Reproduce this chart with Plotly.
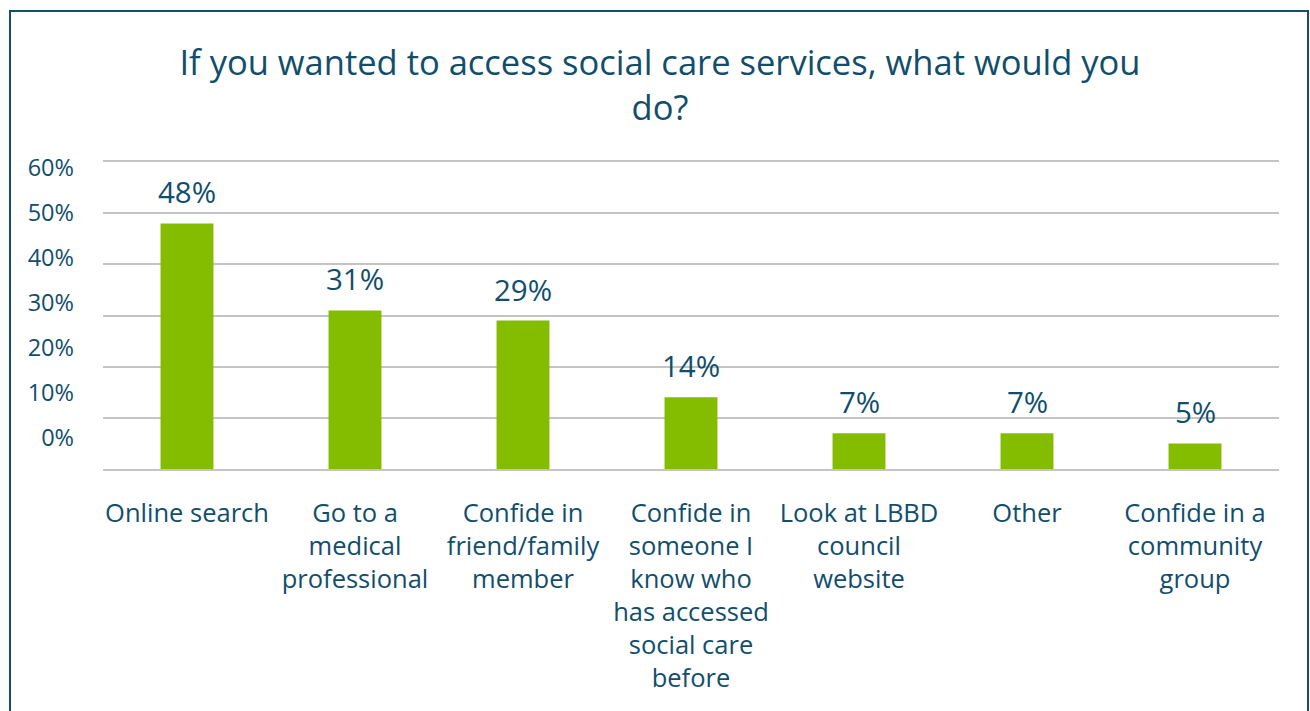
import plotly.graph_objects as go

# Survey responses: share of respondents choosing each route
categories = [
    "Online search",
    "Go to a medical professional",
    "Confide in friend/family member",
    "Confide in someone I know who has accessed social care before",
    "Look at LBBD council website",
    "Other",
    "Confide in a community group",
]
tick_labels = [
    "Online search",
    "Go to a<br>medical<br>professional",
    "Confide in<br>friend/family<br>member",
    "Confide in<br>someone I<br>know who<br>has accessed<br>social care<br>before",
    "Look at LBBD<br>council<br>website",
    "Other",
    "Confide in a<br>community<br>group",
]
percentages = [48, 31, 29, 14, 7, 7, 5]
y_ticks = [0, 10, 20, 30, 40, 50, 60]

TEXT = "#124e6c"
GREEN = "#84bd00"
GRID = "#c4c4c4"
FONT = "Open Sans"

fig = go.Figure()
fig.add_trace(go.Bar(
    x=categories,
    y=percentages,
    xaxis="x",
    yaxis="y",
    marker=dict(color=GREEN, line=dict(width=0)),
    hoverinfo="skip",
))
# hidden helper subplot carrying the percentage scale labels
fig.add_trace(go.Scatter(
    x=[0, 1], y=[0, 60], xaxis="x2", yaxis="y2",
    mode="markers", marker=dict(opacity=0),
    showlegend=False, hoverinfo="skip",
))

# value labels sitting above each bar
value_labels = [
    dict(
        x=cat, y=val, xref="x", yref="y",
        text=f"{val}%",
        showarrow=False,
        xanchor="center", yanchor="bottom",
        yshift=9,
        font=dict(family=FONT, size=29.5, color=TEXT),
    )
    for cat, val in zip(categories, percentages)
]

fig.update_layout(
    width=1310,
    height=711,
    margin=dict(l=103, r=31, t=162, b=242),
    paper_bgcolor="white",
    plot_bgcolor="rgba(0,0,0,0)",
    showlegend=False,
    bargap=0.685,
    title=dict(
        text="If you wanted to access social care services, what would you<br>do?",
        font=dict(family=FONT, size=34.5, color=TEXT),
        x=660 / 1310,
        xref="container",
        xanchor="center",
        y=1 - 75 / 711,
        yref="container",
        yanchor="top",
    ),
    xaxis=dict(
        type="category",
        domain=[0, 1],
        anchor="y",
        tickmode="array",
        tickvals=categories,
        ticktext=tick_labels,
        tickfont=dict(family=FONT, size=25.5, color=TEXT),
        showgrid=False,
        showline=True,
        mirror=True,
        linecolor=GRID,
        linewidth=2,
        ticks="",
        ticklabelstandoff=20,
    ),
    yaxis=dict(
        type="linear",
        domain=[0, 1],
        anchor="x",
        range=[0, 60],
        tickvals=y_ticks,
        showticklabels=False,
        showgrid=True,
        gridcolor=GRID,
        gridwidth=2,
        zeroline=False,
        ticks="",
    ),
    xaxis2=dict(
        domain=[0, 1],
        anchor="y2",
        range=[0, 1],
        visible=False,
    ),
    yaxis2=dict(
        type="linear",
        domain=[31 / 307, 301 / 307],
        anchor="x2",
        range=[0, 60],
        tickvals=y_ticks,
        ticktext=[f"{v}%" for v in y_ticks],
        tickfont=dict(family=FONT, size=23.5, color=TEXT),
        side="left",
        showgrid=False,
        zeroline=False,
        showline=False,
        ticks="",
        ticklabelstandoff=28,
    ),
    annotations=value_labels,
    shapes=[dict(
        type="rect",
        xref="paper", yref="paper",
        x0=(10 - 103) / 1176, x1=(1308 - 103) / 1176,
        y0=(469 - 720) / 307, y1=(469 - 11) / 307,
        line=dict(color="#134f6d", width=2),
        fillcolor="rgba(0,0,0,0)",
        layer="below",
    )],
)

fig.write_html("out.html")
